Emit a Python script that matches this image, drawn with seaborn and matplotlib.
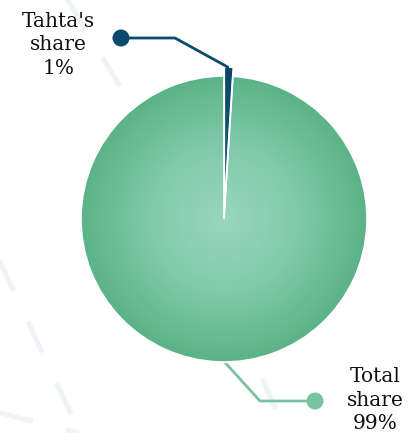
import numpy as np
import matplotlib
matplotlib.use("Agg")
import matplotlib.pyplot as plt
import seaborn as sns
from matplotlib.colors import LinearSegmentedColormap

# ---- data ----
labels = ["Tahta's\nshare", "Total\nshare"]
shares = [1, 99]
pct_labels = ["1%", "99%"]
colors = ["#0b4a6c", "#5db488"]
dot_colors = ["#0b4a6c", "#78c4a2"]

sns.set_theme(style="white")
plt.rcParams["font.family"] = ["DejaVu Serif"]

W, H = 415, 433
fig = plt.figure(figsize=(W / 100, H / 100), dpi=100)
ax = fig.add_axes([0, 0, 1, 1])

# faint decorative dashed background lines
bg = "#eff3f7"
for (x0, y0, x1, y1) in [(62, 443, 140, 313), (-8, 188, 80, 0), (0, 20, 78, 0), (262, 55, 282, 10)]:
    ax.plot([x0, x1], [y0, y1], color=bg, lw=3.5, ls=(0, (7, 7)), zorder=0,
            solid_capstyle="butt")

cx, cy, r = 224, 214, 143
explode = [9, 0]
wedges, _ = ax.pie(shares, colors=colors, startangle=90, counterclock=False,
                   explode=explode, center=(cx, cy), radius=r, frame=True,
                   wedgeprops=dict(edgecolor="white", linewidth=1.2))
ax.set_xlim(0, W)
ax.set_ylim(0, H)
ax.set_aspect("equal")
ax.axis("off")

# radial gradient on the big slice
n = 400
xs = np.linspace(-1, 1, n)
X, Y = np.meshgrid(xs, xs)
D = np.clip(np.sqrt(X**2 + Y**2), 0, 1)
cmap = LinearSegmentedColormap.from_list("g", ["#99d6c0", "#82caab", "#5cb387"])
im = ax.imshow(D, cmap=cmap, extent=[cx - r, cx + r, cy - r, cy + r], origin="lower",
               zorder=2, interpolation="bilinear")
im.set_clip_path(wedges[1])
# dark slice gradient
cmap2 = LinearSegmentedColormap.from_list("d", ["#1d6383", "#0a4565"])
c0 = wedges[0].center
im2 = ax.imshow(D, cmap=cmap2, extent=[c0[0] - r, c0[0] + r, c0[1] - r, c0[1] + r],
                origin="lower", zorder=2, interpolation="bilinear")
im2.set_clip_path(wedges[0])
for w in wedges:
    w.set_zorder(3)
    w.set_facecolor("none")
ax.set_xlim(0, W)
ax.set_ylim(0, H)

# leader lines
def tip(w):
    ang = np.deg2rad((w.theta1 + w.theta2) / 2)
    c = w.center
    return c[0] + w.r * np.cos(ang), c[1] + w.r * np.sin(ang)

# Tahta
tx, ty = tip(wedges[0])
ax.plot([tx - 1, 175, 121], [ty, 395, 395], color=dot_colors[0], lw=2, zorder=4)
ax.scatter([121], [395], s=150, color=dot_colors[0], zorder=5, edgecolor="none")
ax.text(58, 388, labels[0] + "\n" + pct_labels[0], ha="center", va="center",
        fontsize=14.5, color="#111111", linespacing=1.3)

# Total
gx, gy = tip(wedges[1])
ax.plot([gx + 5, 260, 315], [gy, 32, 32], color=dot_colors[1], lw=2, zorder=1)
ax.scatter([315], [32], s=150, color=dot_colors[1], zorder=5, edgecolor="none")
ax.text(375, 33, labels[1] + "\n" + pct_labels[1], ha="center", va="center",
        fontsize=14.5, color="#111111", linespacing=1.3)

fig.savefig("out.png", dpi=100, facecolor="white")
